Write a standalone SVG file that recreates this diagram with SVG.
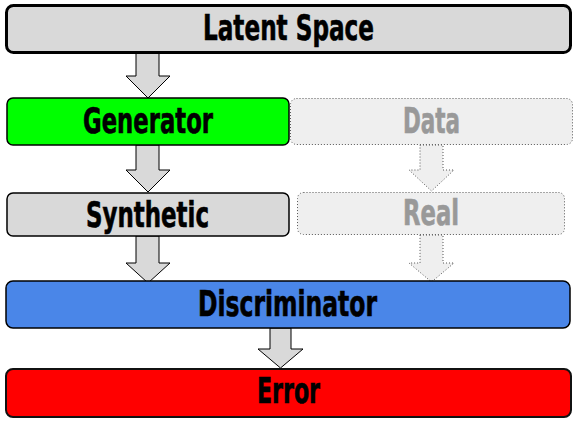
<svg xmlns="http://www.w3.org/2000/svg" width="577" height="424" viewBox="0 0 577 424">
  <style>
    .box { stroke: #000; stroke-width: 1.5; }
    .ghost { fill: #efefef; stroke: #555; stroke-width: 1; stroke-dasharray: 1 2; }
    .lbl { font-family: Impact, "DejaVu Sans Condensed", "Liberation Sans Narrow", sans-serif; font-weight: bold; font-size: 35.5px; text-anchor: middle; fill: #000; stroke: #000; stroke-width: 0.6; }
    .lbl.dim { fill: #999; stroke: #999; }
    .arrow { fill: #d9d9d9; stroke: #000; stroke-width: 1; stroke-linejoin: miter; }
    .arrow.dim { fill: #efefef; stroke: #555; stroke-dasharray: 1 2; }
  </style>
  <rect width="577" height="424" fill="#fff"/>

  <g id="connectors">
    <!-- latent space -> generator -->
    <polygon class="arrow" points="136,53 159,53 159,76 170,76 148,98 126,76 136,76"/>
    <!-- generator -> synthetic -->
    <polygon class="arrow" points="136,145 159,145 159,170 170,170 148,192 126,170 136,170"/>
    <!-- synthetic -> discriminator -->
    <polygon class="arrow" points="136,236 159,236 159,263 170,263 148,283 126,263 136,263"/>
    <!-- data -> real -->
    <polygon class="arrow dim" points="420,145 443,145 443,170 454,170 431.5,191 409,170 420,170"/>
    <!-- real -> discriminator -->
    <polygon class="arrow dim" points="420,235 443,235 443,263 454,263 431.5,282 409,263 420,263"/>
    <!-- discriminator -> error -->
    <polygon class="arrow" points="270,328 291,328 291,349 303,349 280.5,368 258,349 270,349"/>
  </g>

  <g id="latent-space">
    <rect x="6.5" y="5.5" width="564" height="47" rx="7" fill="#d9d9d9" stroke="#000" stroke-width="3"/>
    <text class="lbl" x="288.5" y="40" textLength="171" lengthAdjust="spacingAndGlyphs">Latent Space</text>
  </g>

  <g id="generator">
    <rect class="box" x="7" y="98" width="282" height="47" rx="6" fill="#00ff00"/>
    <text class="lbl" x="148" y="133" textLength="130" lengthAdjust="spacingAndGlyphs">Generator</text>
  </g>

  <g id="data">
    <rect class="ghost" x="290.5" y="98.5" width="282" height="46" rx="6"/>
    <text class="lbl dim" x="431.5" y="133" textLength="57" lengthAdjust="spacingAndGlyphs">Data</text>
  </g>

  <g id="synthetic">
    <rect class="box" x="7" y="193" width="282" height="43" rx="6" fill="#d9d9d9"/>
    <text class="lbl" x="147.5" y="227" textLength="123" lengthAdjust="spacingAndGlyphs">Synthetic</text>
  </g>

  <g id="real">
    <rect class="ghost" x="297.5" y="192.5" width="267" height="42" rx="6"/>
    <text class="lbl dim" x="431" y="225" textLength="56" lengthAdjust="spacingAndGlyphs">Real</text>
  </g>

  <g id="discriminator">
    <rect class="box" x="6" y="281" width="564" height="47" rx="7" fill="#4a86e8"/>
    <text class="lbl" x="287.5" y="316" textLength="179" lengthAdjust="spacingAndGlyphs">Discriminator</text>
  </g>

  <g id="error">
    <rect x="6" y="369" width="565" height="48" rx="7" fill="#ff0000" stroke="#111" stroke-width="2"/>
    <text class="lbl" x="288.5" y="403" textLength="63" lengthAdjust="spacingAndGlyphs">Error</text>
  </g>
</svg>
